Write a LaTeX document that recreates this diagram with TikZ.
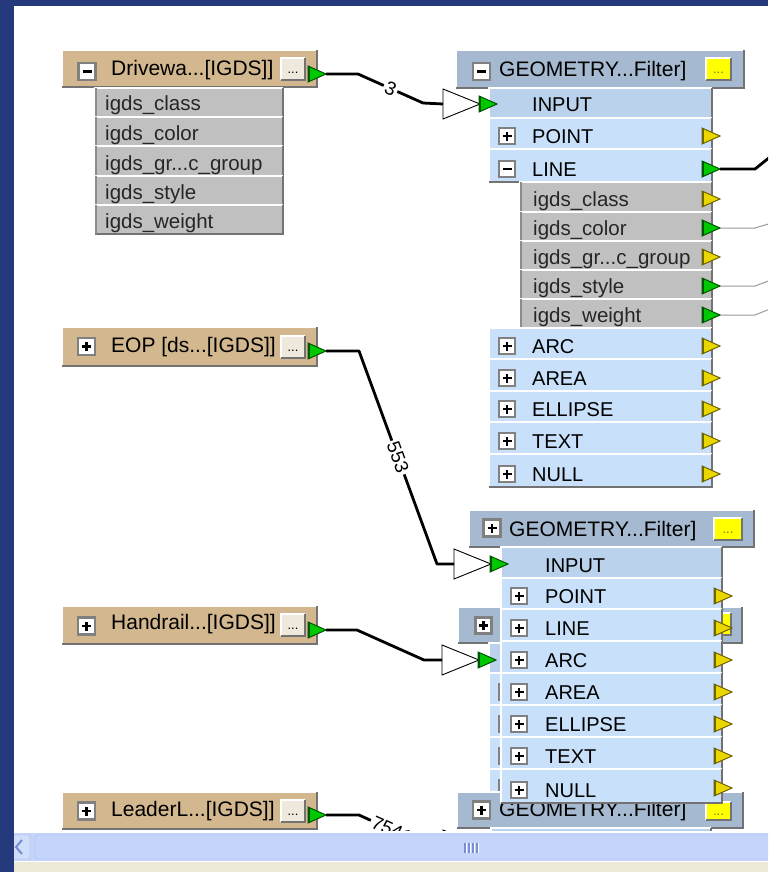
\documentclass[tikz,border=0pt]{standalone}
\usepackage{fontspec}
\setmainfont{Liberation Sans}
\definecolor{navy}{RGB}{36,58,125}
\definecolor{tanc}{RGB}{211,183,143}
\definecolor{tanbtn}{RGB}{238,233,220}
\definecolor{attrg}{RGB}{192,192,192}
\definecolor{fhead}{RGB}{165,186,208}
\definecolor{rowin}{RGB}{186,210,235}
\definecolor{rowb}{RGB}{200,224,250}
\definecolor{pmframe}{RGB}{128,128,128}
\definecolor{portg}{RGB}{0,200,0}
\definecolor{portgd}{RGB}{0,85,0}
\definecolor{porty}{RGB}{235,215,0}
\definecolor{portyd}{RGB}{110,100,0}
\definecolor{yelc}{RGB}{255,255,0}
\definecolor{olivd}{RGB}{120,120,0}
\definecolor{scrollc}{RGB}{196,212,250}
\definecolor{scrollb}{RGB}{165,185,235}
\definecolor{gripc}{RGB}{120,140,210}
\definecolor{beigec}{RGB}{236,233,216}
\tikzset{
  boxst/.style={rectangle, anchor=north west, inner sep=0pt, outer sep=0pt, draw=none},
  bevl/.style={draw=white, line width=1.4pt},
  bevd/.style={draw=black!55, line width=1.4pt},
  pmst/.style={rectangle, fill=white, draw=pmframe, line width=2.8pt, inner sep=0pt, outer sep=0pt},
  hdtxt/.style={anchor=base west, inner sep=0pt, font=\fontsize{21}{21}\selectfont},
  rowtxt/.style={anchor=base west, inner sep=0pt, font=\fontsize{20}{20}\selectfont},
  attrtxt/.style={anchor=base west, inner sep=0pt, font=\fontsize{20.5}{20.5}\selectfont, text=black!85},
  dotst/.style={inner sep=0pt, font=\fontsize{13}{13}\selectfont},
  conn/.style={draw=black, line width=2.8pt, line join=round},
  thinconn/.style={draw=black!40, line width=1pt},
  lab/.style={fill=white, inner sep=2pt, font=\fontsize{19}{19}\selectfont, sloped},
  funnelst/.style={fill=white, draw=black, line width=0.9pt, line join=miter},
}
% box with 3D bevel
\newcommand{\rbox}[6]{%
  \node[boxst, fill=#2, minimum width={(#5-#3)*1pt}, minimum height={(#6-#4)*1pt}] (#1) at (#3,#4) {};
  \draw[bevl] (#1.south west) -- (#1.north west) -- (#1.north east);
  \draw[bevd] (#1.north east) -- (#1.south east) -- (#1.south west);}
% plus / minus box
\newcommand{\pmbx}[5]{%
  \node[pmst, minimum size=#4pt] (#1) at (#2,#3) {};
  \draw[line width=2.8pt] ([xshift=-4.5pt]#1.center) -- ([xshift=4.5pt]#1.center);
  \ifnum#5=1 \draw[line width=2.8pt] ([yshift=-4.5pt]#1.center) -- ([yshift=4.5pt]#1.center);\fi}
% port triangle
\newcommand{\oport}[5]{%
  \filldraw[fill=#4, draw=#5, line width=1pt, line join=miter] (#2,#3-8) -- (#2+18,#3) -- (#2,#3+8) -- cycle;
  \draw[draw=#5, line width=2.2pt] (#2+1,#3-8) -- (#2+1,#3+8);
  \coordinate (#1) at (#2+18,#3);}
% input funnel
\newcommand{\funnel}[3]{%
  \filldraw[funnelst] (#2,#3-15) -- (#2+37,#3) -- (#2,#3+15) -- cycle;
  \coordinate (#1) at (#2,#3);}
% filter row: name, colour, x1, y1, x2, y2, text, textx, 0 none / 1 plus / 2 minus
\newcommand{\frow}[9]{%
  \rbox{#1}{#2}{#3}{#4}{#5}{#6}
  \ifcase#9\or\pmbx{#1pm}{#3+18}{#6-13}{16}{1}\or\pmbx{#1pm}{#3+18}{#6-13}{16}{0}\fi
  \node[rowtxt] (#1t) at (#8,#6-6) {#7};}
% attribute row
\newcommand{\arow}[7]{%
  \rbox{#1}{attrg}{#2}{#3}{#4}{#5}
  \draw[draw=black!45, line width=2.4pt] ([xshift=1.2pt]#1.north west) -- ([xshift=1.2pt]#1.south west);
  \node[attrtxt] (#1t) at (#7,#5-6) {#6};}
\begin{document}
\begin{tikzpicture}[x=1pt,y=-1pt]
\useasboundingbox (0,0) rectangle (768,872);
\clip (0,0) rectangle (768,872);
\fill[white] (0,0) rectangle (768,872);
\fill[navy] (0,0) rectangle (768,6);

% ---------- Driveway reader ----------
\rbox{drv}{tanc}{62}{50}{317}{87}
\pmbx{drvpm}{87}{71.5}{17}{0}
\node[hdtxt] (drvt) at (111,76) {Drivewa...[IGDS]]};
\rbox{drvb}{tanbtn}{281}{58}{305}{80}
\node[dotst] (drvbd) at ([yshift=-4pt]drvb.center) {...};
\oport{drvout}{308}{74}{portg}{portgd}
\arow{da1}{95}{88}{283}{117}{igds\_class}{105}
\arow{da2}{95}{117}{283}{146}{igds\_color}{105}
\arow{da3}{95}{146}{283}{176}{igds\_gr...c\_group}{105}
\arow{da4}{95}{176}{283}{205}{igds\_style}{105}
\arow{da5}{95}{205}{283}{234}{igds\_weight}{105}

% ---------- EOP ----------
\rbox{eop}{tanc}{62}{327}{317}{366}
\pmbx{eoppm}{86.5}{346.5}{17}{1}
\node[hdtxt] (eopt) at (111,352) {EOP [ds...[IGDS]]};
\rbox{eopb}{tanbtn}{281}{336}{305}{358}
\node[dotst] (eopbd) at ([yshift=-4pt]eopb.center) {...};
\oport{eopout}{308}{351}{portg}{portgd}

% ---------- Handrail ----------
\rbox{hnd}{tanc}{62}{606}{317}{644}
\pmbx{hndpm}{86.5}{626}{17}{1}
\node[hdtxt] (hndt) at (111,629) {Handrail...[IGDS]]};
\rbox{hndb}{tanbtn}{281}{614}{305}{636}
\node[dotst] (hndbd) at ([yshift=-4pt]hndb.center) {...};
\oport{hndout}{308}{630}{portg}{portgd}

% ---------- LeaderL ----------
\rbox{ldr}{tanc}{62}{792}{317}{829}
\pmbx{ldrpm}{86.5}{811}{17}{1}
\node[hdtxt] (ldrt) at (111,816) {LeaderL...[IGDS]]};
\rbox{ldrb}{tanbtn}{281}{800}{305}{822}
\node[dotst] (ldrbd) at ([yshift=-4pt]ldrb.center) {...};
\oport{ldrout}{308}{815}{portg}{portgd}

% ---------- Filter 1 ----------
\rbox{fa}{fhead}{456}{50}{744}{88}
\pmbx{fapm}{481.5}{71.5}{17}{0}
\node[hdtxt] (fat) at (499,77) {GEOMETRY...Filter]};
\rbox{fab}{yelc}{706}{58}{731}{80}
\node[dotst, text=olivd] (fabd) at ([yshift=-4pt]fab.center) {...};
\frow{fa0}{rowin}{489}{88}{712}{118}{INPUT}{532}{0}
\frow{fa1}{rowb}{489}{118}{712}{149}{POINT}{532}{1}
\frow{fa2}{rowb}{489}{149}{712}{182}{LINE}{532}{2}
\arow{fa3}{520}{182}{712}{212}{igds\_class}{533}
\arow{fa4}{520}{212}{712}{241}{igds\_color}{533}
\arow{fa5}{520}{241}{712}{270}{igds\_gr...c\_group}{533}
\arow{fa6}{520}{270}{712}{299}{igds\_style}{533}
\arow{fa7}{520}{299}{712}{328}{igds\_weight}{533}
\frow{fa8}{rowb}{489}{328}{712}{359}{ARC}{532}{1}
\frow{fa9}{rowb}{489}{359}{712}{391}{AREA}{532}{1}
\frow{fa10}{rowb}{489}{391}{712}{422}{ELLIPSE}{532}{1}
\frow{fa11}{rowb}{489}{422}{712}{454}{TEXT}{532}{1}
\frow{fa12}{rowb}{489}{454}{712}{487}{NULL}{532}{1}
\oport{fao1}{702}{136}{porty}{portyd}
\oport{fao2}{702}{169}{portg}{portgd}
\oport{fao3}{702}{199}{porty}{portyd}
\oport{fao4}{702}{228}{portg}{portgd}
\oport{fao5}{702}{257}{porty}{portyd}
\oport{fao6}{702}{286}{portg}{portgd}
\oport{fao7}{702}{315}{portg}{portgd}
\oport{fao8}{702}{346}{porty}{portyd}
\oport{fao9}{702}{378}{porty}{portyd}
\oport{fao10}{702}{409}{porty}{portyd}
\oport{fao11}{702}{441}{porty}{portyd}
\oport{fao12}{702}{474}{porty}{portyd}

% ---------- Filter 3 (behind filter 2) ----------
\rbox{fc}{fhead}{458}{607}{742}{643}
\pmbx{fcpm}{483.5}{625.5}{16}{1}
\rbox{fcb}{yelc}{706}{613}{731}{635}
\frow{fc0}{rowin}{489}{643}{712}{673}{}{532}{0}
\frow{fc1}{rowb}{489}{673}{712}{705}{}{532}{1}
\frow{fc2}{rowb}{489}{705}{712}{737}{}{532}{1}
\frow{fc3}{rowb}{489}{737}{712}{769}{}{532}{1}
\frow{fc4}{rowb}{489}{769}{712}{801}{}{532}{1}

% ---------- Filter 4 (bottom) ----------
\rbox{fd}{fhead}{457}{792}{743}{828}
\pmbx{fdpm}{481.5}{810}{17}{1}
\node[hdtxt] (fdt) at (499,816) {GEOMETRY...Filter]};
\rbox{fdb}{yelc}{706}{802}{731}{820}
\node[dotst, text=olivd] (fdbd) at ([yshift=-4pt]fdb.center) {...};
\frow{fd0}{rowin}{491}{828}{711}{858}{}{532}{0}

% ---------- Filter 2 ----------
\rbox{fb}{fhead}{469}{510}{754}{547}
\pmbx{fbpm}{492}{528}{17}{1}
\node[hdtxt] (fbt) at (509,536) {GEOMETRY...Filter]};
\rbox{fbb}{yelc}{714}{518}{742}{540}
\node[dotst, text=olivd] (fbbd) at ([yshift=-4pt]fbb.center) {...};
\frow{fb0}{rowin}{501}{547}{722}{578}{INPUT}{545}{0}
\frow{fb1}{rowb}{501}{578}{722}{609}{POINT}{545}{1}
\frow{fb2}{rowb}{501}{609}{722}{641}{LINE}{545}{1}
\frow{fb3}{rowb}{501}{641}{722}{673}{ARC}{545}{1}
\frow{fb4}{rowb}{501}{673}{722}{705}{AREA}{545}{1}
\frow{fb5}{rowb}{501}{705}{722}{737}{ELLIPSE}{545}{1}
\frow{fb6}{rowb}{501}{737}{722}{769}{TEXT}{545}{1}
\frow{fb7}{rowb}{501}{769}{722}{803}{NULL}{545}{1}
\oport{fbo1}{714}{596}{porty}{portyd}
\oport{fbo2}{714}{628}{porty}{portyd}
\oport{fbo3}{714}{660}{porty}{portyd}
\oport{fbo4}{714}{692}{porty}{portyd}
\oport{fbo5}{714}{724}{porty}{portyd}
\oport{fbo6}{714}{756}{porty}{portyd}
\oport{fbo7}{714}{788}{porty}{portyd}

% ---------- input funnels and ports ----------
\funnel{fafn}{443}{104}
\oport{faip}{479}{104}{portg}{portgd}
\funnel{fbfn}{454}{564}
\oport{fbip}{490}{564}{portg}{portgd}
\funnel{fcfn}{442}{660}
\oport{fcip}{478}{660}{portg}{portgd}
\funnel{fdfn}{443}{845}
\oport{fdip}{479}{845}{portg}{portgd}

% ---------- connectors ----------
\draw[conn] (drvout) -- ++(32,0) -- node[lab]{3} (423,103) -- (fafn);
\draw[conn] (eopout) -- ++(33,0) -- node[lab]{553} (437,564) -- (fbfn);
\draw[conn] (hndout) -- ++(31,0) -- (424,660) -- (fcfn);
\draw[conn] (ldrout) -- ++(33,0) -- node[lab]{7541} (425,845) -- (fdfn);

\coordinate (ra) at (785,145);
\coordinate (rb) at (785,219);
\coordinate (rc) at (785,275);
\coordinate (rd) at (785,303);
\draw[conn] (fao2) -- ++(35,0) -- (ra);
\draw[thinconn] (fao4) -- ++(35,0) -- (rb);
\draw[thinconn] (fao6) -- ++(35,0) -- (rc);
\draw[thinconn] (fao7) -- ++(35,0) -- (rd);

% ---------- scrollbar and status strip ----------
\fill[white] (14,831) rectangle (768,872);
\fill[scrollc] (14,833) rectangle (768,861);
\filldraw[fill=scrollc!80!white, draw=scrollb, rounded corners=2pt] (8,835) rectangle (30,859);
\draw[gripc, line width=2pt] (22,840) -- (16,847) -- (22,854);
\filldraw[fill=scrollc, draw=scrollb, rounded corners=3pt] (35,835) rectangle (800,859);
\foreach \gx in {465,469,473,477} {
  \draw[gripc, line width=1.2pt] (\gx,843) -- (\gx,853);
  \draw[white, line width=0.8pt] (\gx+1.3,843) -- (\gx+1.3,853);
}
\fill[beigec] (14,862) rectangle (768,872);
\fill[navy] (0,0) rectangle (14,872);
\end{tikzpicture}
\end{document}
